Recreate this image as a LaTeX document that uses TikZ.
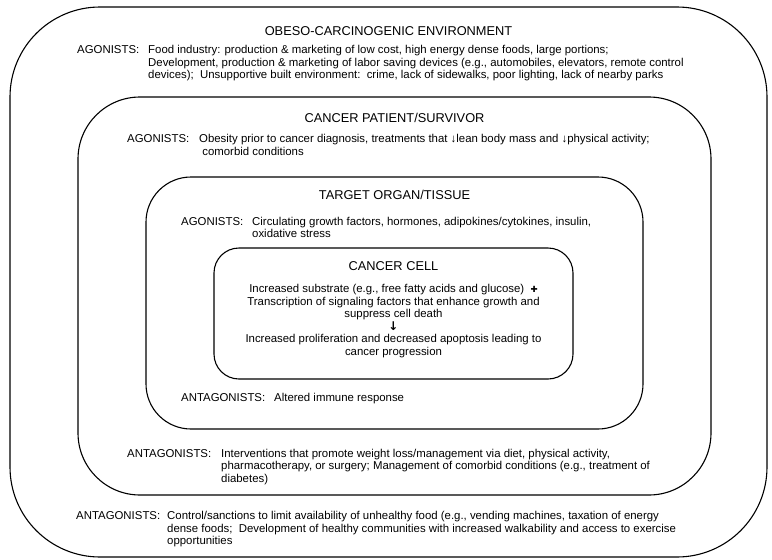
\documentclass[tikz,border=0pt]{standalone}
\usepackage{fontspec}
\setmainfont{Liberation Sans}
\newfontfamily\symfont{DejaVu Sans}
\begin{document}
\begin{tikzpicture}[x=1pt,y=-1pt,
  box/.style={draw, line width=1.1pt, rounded corners=#1},
  ttl/.style={font=\fontsize{12.8}{15}\selectfont, inner sep=0pt, anchor=base},
  lbl/.style={font=\fontsize{11.4}{12.5}\selectfont, inner sep=0pt, anchor=north west},
  txt/.style={font=\fontsize{11.4}{12.5}\selectfont, inner sep=0pt, anchor=north west, align=left},
]
\useasboundingbox (0,0) rectangle (772,560);
% nested boxes
\draw[box=90] (10,7) rectangle (767,557);
\draw[box=62] (78,97) rectangle (711,495);
\draw[box=45] (146,177) rectangle (643,429);
\draw[box=25] (214,248) rectangle (573,379);

% outer environment
\node[ttl] (envT) at (388.5,35) {OBESO-CARCINOGENIC ENVIRONMENT};
\node[lbl] (envAl) at (77,45.5) {AGONISTS:};
\node[txt] (envAt) at (148,45.5) {Food industry: production \& marketing of low cost, high energy dense foods, large portions;\\
Development, production \& marketing of labor saving devices (e.g., automobiles, elevators, remote control\\
devices);\ \ Unsupportive built environment:\ \ crime, lack of sidewalks, poor lighting, lack of nearby parks};

% patient
\node[ttl] (patT) at (394.5,122.5) {CANCER PATIENT/SURVIVOR};
\node[lbl] (patAl) at (127,134.5) {AGONISTS:};
\node[txt] (patAt) at (199,134.5) {Obesity prior to cancer diagnosis, treatments that ↓lean body mass and ↓physical activity;\\
\ comorbid conditions};

% target organ
\node[ttl] (tgtT) at (394.5,199) {TARGET ORGAN/TISSUE};
\node[lbl] (tgtAl) at (181,217) {AGONISTS:};
\node[txt] (tgtAt) at (252,217) {Circulating growth factors, hormones, adipokines/cytokines, insulin,\\
oxidative stress};

% cancer cell
\node[ttl] (cellT) at (393.5,270.5) {CANCER CELL};
\node[txt, anchor=north, align=center] (cellTx) at (393.5,284.5) {Increased substrate (e.g., free fatty acids and glucose)\ \ {\symfont\bfseries\fontsize{8.5}{12.5}\selectfont ✚}\\
Transcription of signaling factors that enhance growth and\\
suppress cell death\\
{\symfont\bfseries\fontsize{12}{12.5}\selectfont ↓}\\
Increased proliferation and decreased apoptosis leading to\\
cancer progression};

\node[lbl] (immAl) at (181,393.5) {ANTAGONISTS:};
\node[txt] (immAt) at (274,393.5) {Altered immune response};

\node[lbl] (intAl) at (127,449) {ANTAGONISTS:};
\node[txt] (intAt) at (221,449) {Interventions that promote weight loss/management via diet, physical activity,\\
pharmacotherapy, or surgery; Management of comorbid conditions (e.g., treatment of\\
diabetes)};

\node[lbl] (envNl) at (76,511.5) {ANTAGONISTS:};
\node[txt] (envNt) at (167,511.5) {Control/sanctions to limit availability of unhealthy food (e.g., vending machines, taxation of energy\\
dense foods;\ \ Development of healthy communities with increased walkability and access to exercise\\
opportunities};
\end{tikzpicture}
\end{document}
